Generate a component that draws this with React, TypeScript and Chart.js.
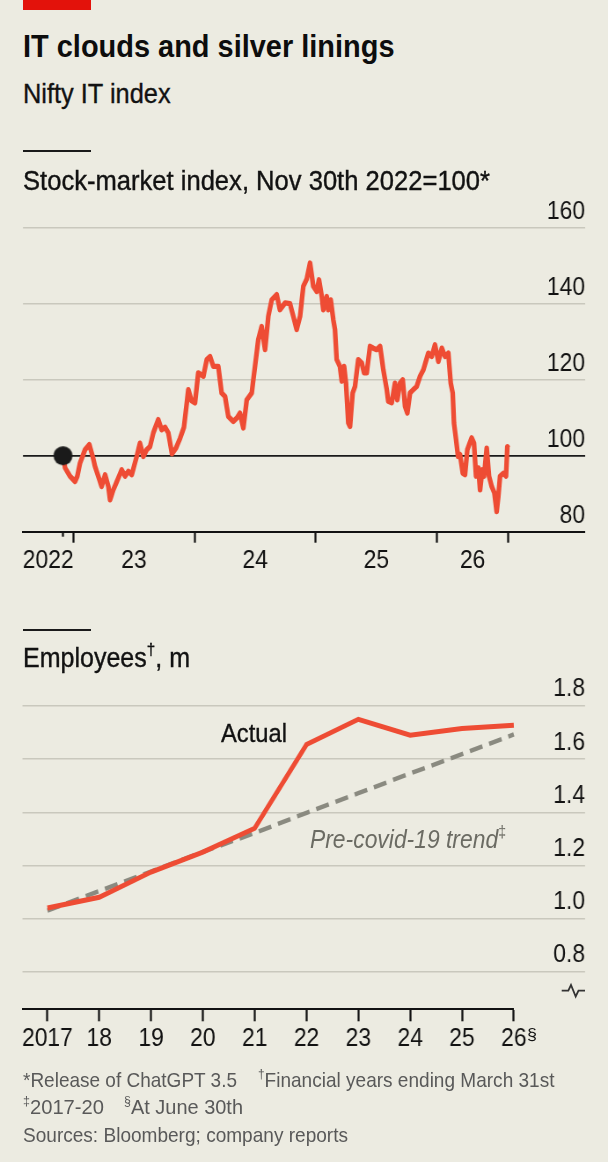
import React, { useEffect, useLayoutEffect, useRef } from 'react';
import { Chart, registerables } from 'chart.js';

Chart.register(...registerables);

const FONT = "'Liberation Sans', Arial, sans-serif";
const BG = '#ecebe1';
const RED_LINE = '#ee4c34';
const GRID = '#c9c8bd';
const INK = '#121212';
const FOOT = '#595959';

// canvas is drawn wider and squeezed horizontally, to mimic a condensed typeface
const CANVAS_W = 691;
const SQ = 608 / CANVAS_W;

// ---------- Chart 1: Nifty IT index (Nov 30th 2022 = 100) ----------
const IDX_DATES = [
  2022.915, 2022.932, 2022.973, 2023.014, 2023.033, 2023.055, 2023.097, 2023.132, 2023.16, 2023.179,
  2023.206, 2023.234, 2023.262, 2023.289, 2023.303, 2023.33, 2023.371, 2023.399, 2023.427, 2023.454,
  2023.482, 2023.523, 2023.55, 2023.578, 2023.606, 2023.633, 2023.66, 2023.701, 2023.729, 2023.757,
  2023.784, 2023.814, 2023.847, 2023.88, 2023.913, 2023.949, 2023.975, 2024.004, 2024.031, 2024.073,
  2024.101, 2024.128, 2024.155, 2024.196, 2024.224, 2024.252, 2024.279, 2024.32, 2024.351, 2024.375,
  2024.403, 2024.431, 2024.472, 2024.499, 2024.526, 2024.554, 2024.582, 2024.609, 2024.637, 2024.678,
  2024.705, 2024.747, 2024.788, 2024.815, 2024.843, 2024.871, 2024.898, 2024.926, 2024.953, 2024.98,
  2025.008, 2025.027, 2025.05, 2025.063, 2025.091, 2025.104, 2025.124, 2025.145, 2025.159, 2025.173,
  2025.2, 2025.215, 2025.234, 2025.25, 2025.269, 2025.283, 2025.305, 2025.324, 2025.351, 2025.38,
  2025.399, 2025.421, 2025.448, 2025.475, 2025.503, 2025.531, 2025.558, 2025.586, 2025.599, 2025.627,
  2025.654, 2025.673, 2025.696, 2025.718, 2025.737, 2025.756, 2025.778, 2025.805, 2025.833, 2025.861,
  2025.888, 2025.929, 2025.957, 2025.984, 2026.012, 2026.04, 2026.067, 2026.094, 2026.114, 2026.13,
  2026.141, 2026.158, 2026.174, 2026.191, 2026.213, 2026.232, 2026.251, 2026.287, 2026.306, 2026.323,
  2026.342, 2026.356, 2026.375, 2026.389, 2026.411, 2026.43, 2026.452, 2026.474, 2026.493, 2026.507,
  2026.521, 2026.548, 2026.57, 2026.581, 2026.589,
];
const IDX_VALUES = [
  100, 96.8, 94.6, 93.2, 94.6, 98, 101.6, 102.9, 99.8, 97.2,
  94.6, 91.9, 95, 91.9, 88.4, 91, 94.1, 96.3, 94.6, 95.9,
  95, 99.8, 103.3, 99.8, 101.6, 102.4, 106, 109.5, 106.8, 107.5,
  106, 100.5, 102, 104.5, 107.5, 117.4, 114.5, 113.9, 121.8, 120.9,
  125.3, 126.1, 123.5, 123.5, 116.5, 115.6, 110.3, 109, 110, 111.2,
  107.3, 114.7, 116.5, 123.5, 130.5, 134, 127.9, 136.7, 141, 142.4,
  138.4, 140.2, 140, 136.7, 133.2, 136.7, 144.6, 146.5, 150.7, 144.6,
  143.2, 146.3, 141.9, 138.4, 141.9, 138.4, 141, 135.8, 133.2, 125.3,
  123.5, 119.6, 123.5, 119.1, 108.6, 107.7, 116.5, 118.2, 125.3, 124.4,
  121.8, 121.8, 128.8, 128.3, 127.9, 128.8, 122.6, 117.4, 114.3, 113.9,
  119.1, 114.7, 119.1, 120, 113, 111.2, 116.5, 117.4, 118.2, 120.9,
  122.6, 127, 126.1, 129.2, 124.8, 128.3, 126.1, 127, 119.1, 116.5,
  108.6, 104.2, 99.8, 100.3, 95.4, 95, 101.6, 104.7, 103.3, 94.6,
  96.8, 91, 96.3, 94.6, 102, 94.6, 91.9, 90.2, 85.3, 89.3,
  94.6, 95.4, 94.6, 102.4, 102,
];
const IDX_BASE_DATE = [2022.915]; // Release of ChatGPT 3.5
const IDX_BASE_VALUE = [100];
const IDX_YEAR_STARTS = [2023, 2024, 2025, 2026];
const IDX_X_LABELS = ['2022', '23', '24', '25', '26'];
const IDX_Y_TICKS = [80, 100, 120, 140, 160];
const IDX_X_RANGE = [2022.585, 2027.222];
const IDX_Y_RANGE = [80, 160];

// ---------- Chart 2: Employees, m ----------
const EMP_YEARS = [2017, 2018, 2019, 2020, 2021, 2022, 2023, 2024, 2025, 2026];
const EMP_X_LABELS = ['2017', '18', '19', '20', '21', '22', '23', '24', '25', '26'];
const EMP_ACTUAL = [1.04, 1.08, 1.175, 1.25, 1.34, 1.655, 1.75, 1.69, 1.715, 1.728];
const EMP_TREND = [1.03, 1.104, 1.177, 1.251, 1.322, 1.398, 1.472, 1.546, 1.619, 1.693];
const EMP_Y_TICKS = [0.8, 1.0, 1.2, 1.4, 1.6, 1.8];
const EMP_X_RANGE = [2016.52, 2026];
const EMP_Y_RANGE = [0.6585, 1.8];

const TICK_FONT = { family: FONT, size: 26 };

function T(props: {
  x: number; b: number; size: number; w?: number; children: React.ReactNode;
  weight?: number; color?: string; italic?: boolean; stroke?: number;
}) {
  const { x, b, size, w, children, weight = 400, color = INK, italic = false, stroke = 0 } = props;
  const ref = useRef<HTMLDivElement | null>(null);
  useLayoutEffect(() => {
    const el = ref.current;
    if (!el || !w) return;
    el.style.transform = 'none';
    const actual = el.getBoundingClientRect().width;
    if (actual > 0) el.style.transform = `scaleX(${w / actual})`;
  }, [w]);
  return (
    <div
      ref={ref}
      style={{
        position: 'absolute', left: x, top: b - size * 0.8465, fontSize: size,
        lineHeight: size + 'px', fontFamily: FONT, fontWeight: weight,
        fontStyle: italic ? 'italic' : 'normal', color, whiteSpace: 'nowrap', zIndex: 2,
        transformOrigin: '0 0',
        WebkitTextStroke: stroke ? `${stroke}px ${color}` : undefined,
      } as any}
    >
      {children}
    </div>
  );
}

function Sup(props: { size: number; children: React.ReactNode }) {
  return (
    <span style={{ fontSize: props.size, position: 'relative', top: -props.size * 0.7, lineHeight: 0, fontStyle: 'normal' }}>
      {props.children}
    </span>
  );
}

function makeDot(r: number, color: string) {
  const c = document.createElement('canvas');
  const rx = r / SQ;
  c.width = Math.ceil(rx * 2) + 2;
  c.height = Math.ceil(r * 2) + 2;
  const g = c.getContext('2d');
  if (g) {
    g.fillStyle = color;
    g.beginPath();
    g.ellipse(c.width / 2, c.height / 2, rx, r, 0, 0, Math.PI * 2);
    g.fill();
  }
  return c;
}

function IndexChart() {
  const ref = useRef<HTMLCanvasElement | null>(null);
  useEffect(() => {
    if (!ref.current) return;
    const lastDate = IDX_DATES[IDX_DATES.length - 1];
    const bounds = [...IDX_YEAR_STARTS, lastDate];
    const edges = [IDX_X_RANGE[0], ...IDX_YEAR_STARTS, lastDate];
    const labelPos = IDX_X_LABELS.map((_, i) => (edges[i] + edges[i + 1]) / 2);
    const chart = new Chart(ref.current, {
      type: 'line',
      data: {
        datasets: [
          {
            data: IDX_DATES.map((d, i) => ({ x: d, y: IDX_VALUES[i] })),
            borderColor: RED_LINE, borderWidth: 5.3, pointRadius: 0, tension: 0,
            borderJoinStyle: 'round', clip: false as any, order: 2,
          },
          {
            type: 'scatter' as any,
            data: IDX_BASE_DATE.map((d, i) => ({ x: d, y: IDX_BASE_VALUE[i] })),
            pointStyle: makeDot(9.5, '#1a1a1a') as any, pointRadius: 9.5,
            backgroundColor: '#1a1a1a', borderWidth: 0, clip: false as any, order: 1,
          },
        ],
      },
      options: {
        animation: false, responsive: false, maintainAspectRatio: false,
        layout: { padding: { top: 32.7, left: 23 / SQ, right: 23 / SQ, bottom: 0 } },
        plugins: { legend: { display: false }, tooltip: { enabled: false } },
        scales: {
          x: {
            type: 'linear', position: 'bottom', min: IDX_X_RANGE[0], max: IDX_X_RANGE[1],
            afterBuildTicks: (s: any) => { s.ticks = bounds.map((v) => ({ value: v })); },
            ticks: { display: false },
            grid: { drawOnChartArea: false, drawTicks: true, tickLength: 11, tickColor: INK, tickWidth: 2 / SQ },
            border: { display: true, color: INK, width: 2 },
            afterFit: (s: any) => { s.height = 0; },
          },
          xShort: {
            type: 'linear', position: 'bottom', min: IDX_X_RANGE[0], max: IDX_X_RANGE[1],
            afterBuildTicks: (s: any) => { s.ticks = IDX_BASE_DATE.map((v) => ({ value: v })); },
            ticks: { display: false },
            grid: { drawOnChartArea: false, drawTicks: true, tickLength: 5, tickColor: INK, tickWidth: 2 / SQ },
            border: { display: false },
            afterFit: (s: any) => { s.height = 0; },
          },
          xLab: {
            type: 'linear', position: 'bottom', min: IDX_X_RANGE[0], max: IDX_X_RANGE[1],
            afterBuildTicks: (s: any) => { s.ticks = labelPos.map((v) => ({ value: v })); },
            ticks: {
              callback: (_v: any, i: number) => IDX_X_LABELS[i],
              font: TICK_FONT, color: INK, padding: 13.7, maxRotation: 0, autoSkip: false,
            },
            grid: { display: false, drawTicks: false },
            border: { display: false },
            afterFit: (s: any) => { s.height = 58.3; },
          },
          y: {
            type: 'linear', position: 'right', min: IDX_Y_RANGE[0], max: IDX_Y_RANGE[1],
            afterBuildTicks: (s: any) => { s.ticks = IDX_Y_TICKS.map((v) => ({ value: v })); },
            ticks: {
              mirror: true, padding: 0, labelOffset: -16, font: TICK_FONT, color: INK,
              callback: (v: any) => String(v),
            },
            grid: {
              drawTicks: false,
              color: (c: any) => (c.tick && c.tick.value === 100 ? '#1a1a1a' : c.tick && c.tick.value === 80 ? 'rgba(0,0,0,0)' : GRID),
              lineWidth: (c: any) => (c.tick && c.tick.value === 100 ? 1.8 : 1.5),
            },
            border: { display: false },
            afterFit: (s: any) => { s.width = 0; },
          },
        },
      } as any,
    });
    return () => chart.destroy();
  }, []);
  return (
    <canvas ref={ref} width={CANVAS_W} height={395}
      style={{ position: 'absolute', left: 0, top: 195, width: 608, height: 395, zIndex: 1 }} />
  );
}

function EmployeeChart() {
  const ref = useRef<HTMLCanvasElement | null>(null);
  useEffect(() => {
    if (!ref.current) return;
    const chart = new Chart(ref.current, {
      type: 'line',
      data: {
        datasets: [
          {
            data: EMP_YEARS.map((y, i) => ({ x: y, y: EMP_ACTUAL[i] })),
            borderColor: RED_LINE, borderWidth: 5, pointRadius: 0, tension: 0,
            clip: false as any, order: 1,
          },
          {
            data: EMP_YEARS.map((y, i) => ({ x: y, y: EMP_TREND[i] })),
            borderColor: '#8a8a80', borderWidth: 4.5, borderDash: [15, 8], pointRadius: 0, tension: 0,
            clip: false as any, order: 2,
          },
        ],
      },
      options: {
        animation: false, responsive: false, maintainAspectRatio: false,
        layout: { padding: { top: 38, left: 22.5 / SQ, right: 23 / SQ, bottom: 0 } },
        plugins: { legend: { display: false }, tooltip: { enabled: false } },
        scales: {
          x: {
            type: 'linear', position: 'bottom', min: EMP_X_RANGE[0], max: EMP_X_RANGE[1],
            afterBuildTicks: (s: any) => { s.ticks = EMP_YEARS.map((v) => ({ value: v })); },
            ticks: {
              callback: (_v: any, i: number) => EMP_X_LABELS[i],
              font: TICK_FONT, color: INK, padding: 1.6, maxRotation: 0, autoSkip: false,
            },
            grid: { drawOnChartArea: false, drawTicks: true, tickLength: 12, tickColor: INK, tickWidth: 2 / SQ },
            border: { display: true, color: INK, width: 2 },
            afterFit: (s: any) => { s.height = 70.7; },
          },
          y: {
            type: 'linear', position: 'right', min: EMP_Y_RANGE[0], max: EMP_Y_RANGE[1],
            afterBuildTicks: (s: any) => { s.ticks = EMP_Y_TICKS.map((v) => ({ value: v })); },
            ticks: {
              crossAlign: 'far', padding: 0, labelOffset: -16.7, font: TICK_FONT, color: INK,
              callback: (v: any) => Number(v).toFixed(1),
            },
            grid: {
              color: GRID, lineWidth: 1.5, drawTicks: true, tickLength: 71.2 / SQ,
              tickColor: GRID, tickWidth: 1.5,
            },
            border: { display: false },
            afterFit: (s: any) => { s.width = 71.2 / SQ; },
          },
        },
      } as any,
    });
    return () => chart.destroy();
  }, []);
  return (
    <canvas ref={ref} width={CANVAS_W} height={412}
      style={{ position: 'absolute', left: 0, top: 668, width: 608, height: 412, zIndex: 1 }} />
  );
}

export default function App() {
  return (
    <div style={{ position: 'absolute', left: 0, top: 0, width: 608, height: 1162, background: BG, overflow: 'hidden', fontFamily: FONT }}>
      <div style={{ position: 'absolute', left: 23, top: 0, width: 68, height: 10, background: '#e3120b' }} />
      <T x={23} b={57} size={32} w={371.5} weight={700} color="#0d0d0d">IT clouds and silver linings</T>
      <T x={23} b={104} size={28} w={147.6} stroke={0.35}>Nifty IT index</T>
      <div style={{ position: 'absolute', left: 23, top: 149.5, width: 68, height: 2.2, background: '#1a1a1a' }} />
      <T x={23} b={190} size={27.5} w={467} stroke={0.4}>Stock-market index, Nov 30th 2022=100*</T>
      <IndexChart />

      <div style={{ position: 'absolute', left: 23, top: 628.5, width: 68, height: 2.2, background: '#1a1a1a' }} />
      <T x={23} b={668} size={28} w={167} stroke={0.4}>Employees<Sup size={17}>†</Sup>, m</T>
      <EmployeeChart />
      <T x={221} b={741.7} size={26} w={66} stroke={0.35}>Actual</T>
      <T x={310} b={848.3} size={26} w={196} italic color="#6b6b63">Pre-covid-19 trend<Sup size={16}>‡</Sup></T>
      <T x={527} b={1040} size={17} w={10}>§</T>
      <svg width={608} height={1162} style={{ position: 'absolute', left: 0, top: 0, zIndex: 2, pointerEvents: 'none' }}>
        <polyline points="561.7,990.7 568.3,990.7 571,985 575.7,996.5 578.5,990.7 585,990.7"
          fill="none" stroke="#333" strokeWidth={1.8} strokeLinejoin="miter" />
      </svg>

      <T x={23} b={1086.7} size={21} w={214} color={FOOT}>*Release of ChatGPT 3.5</T>
      <T x={258} b={1086.7} size={21} w={296.5} color={FOOT}><Sup size={13}>†</Sup>Financial years ending March 31st</T>
      <T x={23} b={1114} size={21} w={81} color={FOOT}><Sup size={13}>‡</Sup>2017-20</T>
      <T x={124} b={1114} size={21} w={119} color={FOOT}><Sup size={13}>§</Sup>At June 30th</T>
      <T x={23} b={1141.7} size={21} w={325} color={FOOT}>Sources: Bloomberg; company reports</T>
    </div>
  );
}
